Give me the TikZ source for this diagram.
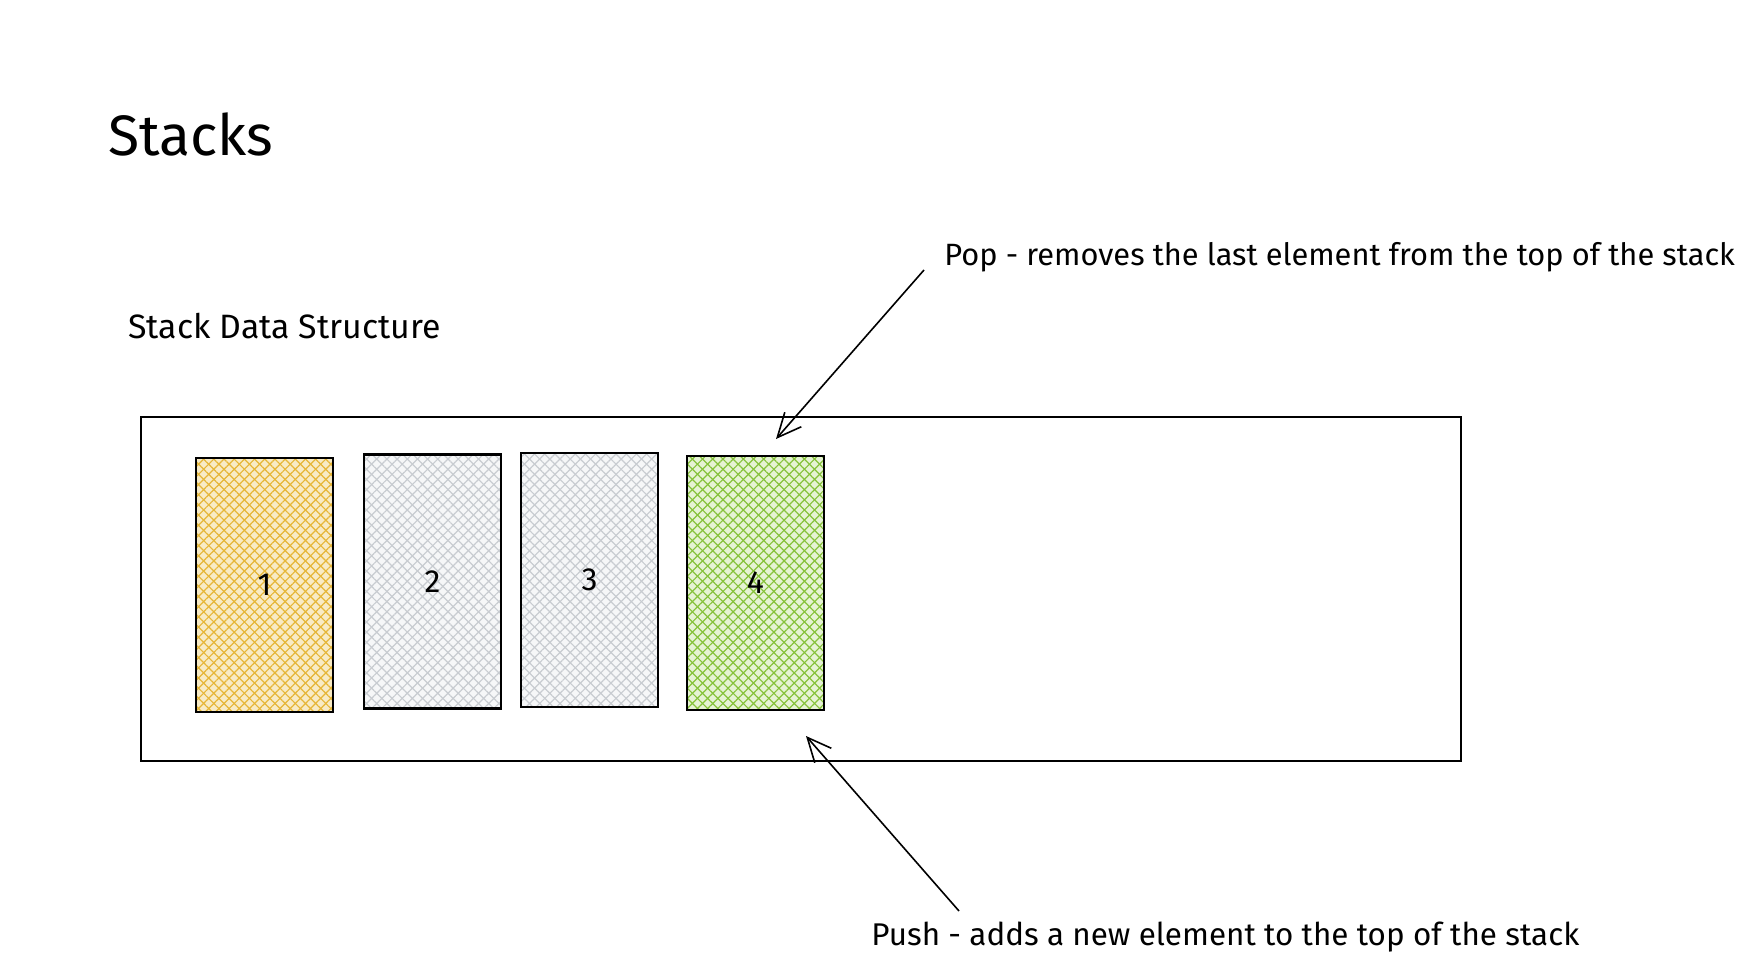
\documentclass[tikz,border=0pt]{standalone}
\usepackage{fontspec}
\setmainfont{Fira Sans}
\usetikzlibrary{arrows.meta,patterns.meta}
\definecolor{hatchY}{HTML}{E6B637}
\definecolor{fillY}{HTML}{F8EBC6}
\definecolor{hatchG}{HTML}{86C23A}
\definecolor{fillG}{HTML}{E6F3D4}
\definecolor{hatchS}{HTML}{C8CCD1}
\definecolor{fillS}{HTML}{F6F7F8}
\tikzset{
  txt/.style={inner sep=0pt, anchor=west, text=black},
  cell/.style={line width=1.1pt, minimum width=68.5pt, minimum height=127pt, inner sep=0pt, font=\fontsize{16}{18}\selectfont},
  hatched/.style 2 args={fill=#2,
    postaction={pattern={Lines[angle=45,distance=3.6pt,line width=0.6pt]}, pattern color=#1},
    postaction={pattern={Lines[angle=-45,distance=3.6pt,line width=0.6pt]}, pattern color=#1},
    postaction={draw=black, line width=1.1pt}},
  container/.style={draw=black, line width=0.8pt, minimum width=660pt, minimum height=172pt, inner sep=0pt},
  arr/.style={line width=0.8pt, -{Straight Barb[length=12pt,width=11pt,line width=0.8pt]}}
}
\begin{document}
\begin{tikzpicture}[x=0.5pt,y=-0.5pt]
\useasboundingbox (0,0) rectangle (1763,958);
\node[txt, font=\fontsize{28.5}{32}\selectfont] (title) at (108,134) {Stacks};
\node[txt, font=\fontsize{16.9}{20}\selectfont] (sub) at (128,326) {Stack Data Structure};
\node[container] (stack) at (801,589) {};
\node[cell, hatched={hatchY}{fillY}] (c1) at (264.5,585) {1};
\node[cell, hatched={hatchS}{fillS}] (c2) at (432.5,581.5) {2};
\node[cell, hatched={hatchS}{fillS}] (c3) at (589.5,580) {3};
\node[cell, hatched={hatchG}{fillG}] (c4) at (755.5,583) {4};
\node[txt, font=\fontsize{15.4}{18}\selectfont] (pop) at (944,257) {Pop - removes the last element from the top of the stack};
\node[txt, font=\fontsize{15.7}{18}\selectfont] (push) at (871,937) {Push - adds a new element to the top of the stack};
\coordinate (popA) at (924,270);
\coordinate (popB) at (776,439);
\coordinate (pushA) at (959,911);
\coordinate (pushB) at (806,736);
\draw[arr] (popA) -- (popB);
\draw[arr] (pushA) -- (pushB);
\end{tikzpicture}
\end{document}
